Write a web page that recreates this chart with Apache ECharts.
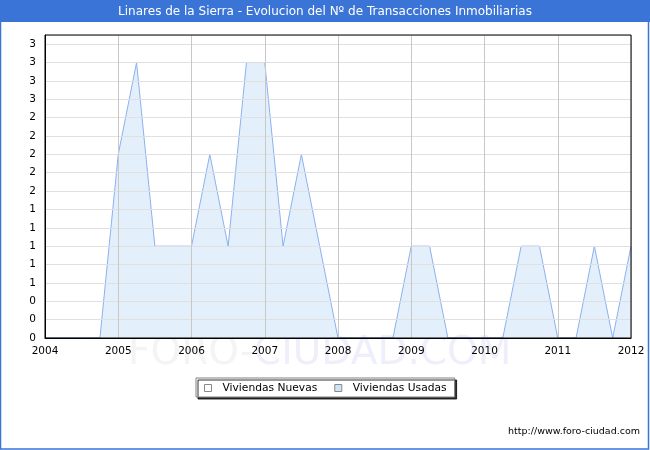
<!DOCTYPE html>
<html>
<head>
<meta charset="utf-8">
<script src="https://cdn.jsdelivr.net/npm/echarts@6/dist/echarts.min.js"></script>
<style>
  html, body { margin: 0; padding: 0; background: #fff; }
  #chart { width: 650px; height: 450px; }
</style>
</head>
<body>
<div id="chart"></div>
<script>
// Quarterly periods 2004 T1 .. 2012 T1
const periodos = [
  '2004 T1','2004 T2','2004 T3','2004 T4',
  '2005 T1','2005 T2','2005 T3','2005 T4',
  '2006 T1','2006 T2','2006 T3','2006 T4',
  '2007 T1','2007 T2','2007 T3','2007 T4',
  '2008 T1','2008 T2','2008 T3','2008 T4',
  '2009 T1','2009 T2','2009 T3','2009 T4',
  '2010 T1','2010 T2','2010 T3','2010 T4',
  '2011 T1','2011 T2','2011 T3','2011 T4',
  '2012 T1'
];
const viviendasNuevas = [
  0,0,0,0, 0,0,0,0, 0,0,0,0, 0,0,0,0,
  0,0,0,0, 0,0,0,0, 0,0,0,0, 0,0,0,0, 0
];
const viviendasUsadas = [
  0,0,0,0, 2,3,1,1, 1,2,1,3, 3,1,2,1,
  0,0,0,0, 1,1,0,0, 0,0,1,1, 0,0,1,0, 1
];
const tituloTexto = 'Linares de la Sierra - Evolucion del Nº de Transacciones Inmobiliarias';
const nombresSeries = ['Viviendas Nuevas', 'Viviendas Usadas'];

const FONT = 'DejaVu Sans';
const chart = echarts.init(document.getElementById('chart'), null, { renderer: 'canvas' });

chart.setOption({
  animation: false,
  backgroundColor: '#ffffff',
  title: {
    text: tituloTexto,
    left: 'center',
    top: 6,
    padding: 0,
    textStyle: { color: '#ffffff', fontFamily: FONT, fontSize: 12, fontWeight: 'normal' }
  },
  graphic: [
    { type: 'rect', z: -20, silent: true,
      shape: { x: 0, y: 0, width: 650, height: 22 },
      style: { fill: '#3a74d7' } },
    { type: 'rect', z: -20, silent: true,
      shape: { x: 0.5, y: 0.5, width: 648, height: 448.5 },
      style: { fill: null, stroke: '#3a74d7', lineWidth: 1.5 } },
    { type: 'text', z: -10, silent: true, left: 128, top: 334,
      style: {
        text: '{a|FORO-}{b|CIUDAD.COM}',
        rich: {
          a: { fontFamily: FONT, fontSize: 39, fill: '#f4f4f4' },
          b: { fontFamily: FONT, fontSize: 39, fill: '#efeffc' }
        }
      } },
    { type: 'text', silent: true, right: 10, top: 427,
      style: { text: 'http://www.foro-ciudad.com', fontFamily: FONT, fontSize: 9.5, fill: '#000000' } }
  ],
  legend: {
    left: 196,
    top: 378,
    orient: 'horizontal',
    padding: [4, 8, 3, 8],
    itemWidth: 7,
    itemHeight: 7,
    itemGap: 17,
    backgroundColor: '#ffffff',
    borderColor: '#808080',
    borderWidth: 1,
    shadowColor: 'rgba(0,0,0,0.8)',
    shadowBlur: 0,
    shadowOffsetX: 2,
    shadowOffsetY: 2,
    icon: 'rect',
    textStyle: { fontFamily: FONT, fontSize: 10.7, color: '#000', padding: [0, 0, 0, 6], lineHeight: 12 },
    data: [
      { name: nombresSeries[0], itemStyle: { color: '#ffffff', borderColor: '#888888', borderWidth: 1 } },
      { name: nombresSeries[1], itemStyle: { color: '#cfe4fa', borderColor: '#888888', borderWidth: 1 } }
    ]
  },
  grid: {
    left: 45, right: 19, top: 35, bottom: 112,
    show: true,
    z: 10,
    borderColor: '#000000',
    borderWidth: 1,
    backgroundColor: 'transparent',
    containLabel: false
  },
  xAxis: {
    type: 'category',
    data: periodos,
    boundaryGap: false,
    z: 3,
    axisLine: { show: true, lineStyle: { color: '#000', width: 1 } },
    axisTick: { show: false },
    axisLabel: {
      interval: 3,
      margin: 8,
      fontFamily: FONT,
      fontSize: 10.5,
      color: '#000',
      formatter: v => v.split(' ')[0]
    },
    splitLine: { show: true, interval: 3, lineStyle: { color: '#c8c8c8', width: 1 } }
  },
  yAxis: {
    type: 'value',
    min: 0,
    max: 3.3,
    interval: 0.2,
    z: 3,
    axisLine: { show: true, lineStyle: { color: '#000', width: 1 } },
    axisTick: { show: false },
    axisLabel: {
      showMaxLabel: false,
      margin: 9,
      fontFamily: FONT,
      fontSize: 10.5,
      color: '#000',
      formatter: v => String(Math.round(v))
    },
    splitLine: { show: true, lineStyle: { color: '#e0e0e0', width: 1 } }
  },
  series: [
    {
      name: nombresSeries[0],
      type: 'line',
      data: viviendasNuevas,
      showSymbol: false,
      symbol: 'none',
      lineStyle: { color: '#aaaaaa', width: 1 },
      itemStyle: { color: '#ffffff' },
      areaStyle: { color: '#ffffff' },
      z: 1
    },
    {
      name: nombresSeries[1],
      type: 'line',
      data: viviendasUsadas,
      showSymbol: false,
      symbol: 'none',
      lineStyle: { color: '#8cb0ee', width: 1 },
      itemStyle: { color: '#cfe4fa' },
      areaStyle: { color: '#e3f0fc', opacity: 1 },
      z: 2
    }
  ]
});
</script>
</body>
</html>
